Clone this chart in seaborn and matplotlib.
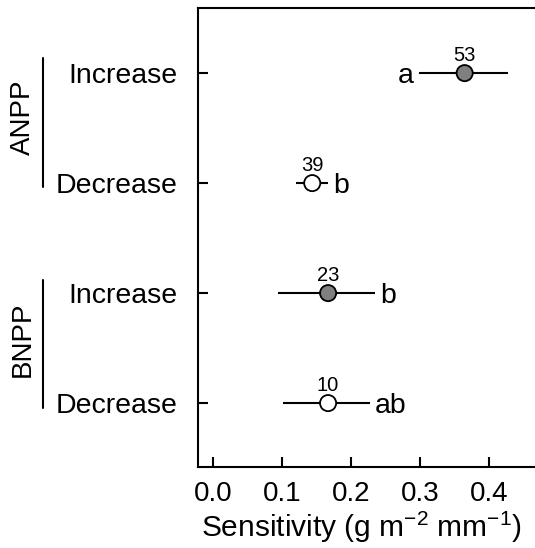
import matplotlib
matplotlib.use("Agg")
import matplotlib.pyplot as plt
import matplotlib.transforms as mtransforms
import numpy as np
import pandas as pd
import seaborn as sns

# values
groups = ["ANPP", "ANPP", "BNPP", "BNPP"]
directions = ["Increase", "Decrease", "Increase", "Decrease"]
sensitivity = [0.365, 0.144, 0.167, 0.167]
ci_low = [0.299, 0.120, 0.094, 0.101]
ci_high = [0.428, 0.167, 0.235, 0.228]
n_obs = ["53", "39", "23", "10"]
letters = ["a", "b", "b", "ab"]
letter_side = ["left", "right", "right", "right"]

df = pd.DataFrame({
    "group": groups,
    "direction": directions,
    "sens": sensitivity,
    "lo": ci_low,
    "hi": ci_high,
    "n": n_obs,
    "letter": letters,
    "side": letter_side,
})
df["pos"] = np.arange(len(df))

sns.set_style("ticks", {"axes.edgecolor": "black", "text.color": "black",
                        "axes.labelcolor": "black",
                        "xtick.color": "black", "ytick.color": "black"})
plt.rcParams["font.family"] = ["Liberation Sans", "DejaVu Sans"]
plt.rcParams["mathtext.fontset"] = "custom"
plt.rcParams["mathtext.rm"] = "Liberation Sans"
plt.rcParams["mathtext.it"] = "Liberation Sans:italic"

FS = 20.5

fig = plt.figure(figsize=(5.35, 5.48), dpi=100)
ax = fig.add_axes([0.370, 0.148, 0.630, 0.837])

# error bars
ax.hlines(df["pos"], df["lo"], df["hi"], color="black", lw=1.5, zorder=1)

sns.scatterplot(data=df, x="sens", y="pos", hue="direction",
                palette={"Increase": "#7f7f7f", "Decrease": "white"},
                edgecolor="black", linewidth=1.3, s=135, legend=False,
                zorder=3, ax=ax)

for _, r in df.iterrows():
    ax.annotate(r["n"], (r["sens"], r["pos"]), xytext=(0, 18),
                textcoords="offset pixels", ha="center", va="center",
                fontsize=14.5)
    if r["side"] == "left":
        ax.annotate(r["letter"], (r["lo"], r["pos"]), xytext=(-6, 0),
                    textcoords="offset pixels", ha="right",
                    va="center_baseline", fontsize=FS)
    else:
        ax.annotate(r["letter"], (r["hi"], r["pos"]), xytext=(5, 0),
                    textcoords="offset pixels", ha="left",
                    va="center_baseline", fontsize=FS)

ax.set_xlim(-0.0217, 0.467)
ax.set_ylim(3.58, -0.59)
ax.set_xticks([0.0, 0.1, 0.2, 0.3, 0.4])
ax.set_xticklabels(["0.0", "0.1", "0.2", "0.3", "0.4"])
ax.set_yticks(df["pos"])
ax.set_yticklabels(df["direction"])
ax.tick_params(axis="both", direction="in", length=7, width=1.5,
               labelsize=FS)
ax.tick_params(axis="x", labelsize=20, pad=10)
ax.tick_params(axis="y", pad=15)
ax.set_ylabel("")
ax.set_xlabel("Sensitivity (g m$^{\u22122}$ mm$^{\u22121}$)", fontsize=21.5,
              labelpad=2, x=0.485)
for side in ["left", "top", "bottom"]:
    ax.spines[side].set_linewidth(1.5)
ax.spines["right"].set_visible(False)

# group brackets on the left
trans = mtransforms.blended_transform_factory(fig.transFigure, ax.transData)
group_spans = {"ANPP": (-0.136, 1.036, 0.40), "BNPP": (1.88, 3.045, 2.42)}
for name, (y0, y1, yc) in group_spans.items():
    ax.plot([0.0804, 0.0804], [y0, y1], color="black", lw=1.5,
            transform=trans, clip_on=False)
    ax.text(0.043, yc, name, rotation=90, ha="center", va="center",
            fontsize=20, transform=trans)

fig.savefig("out.png", dpi=100)
